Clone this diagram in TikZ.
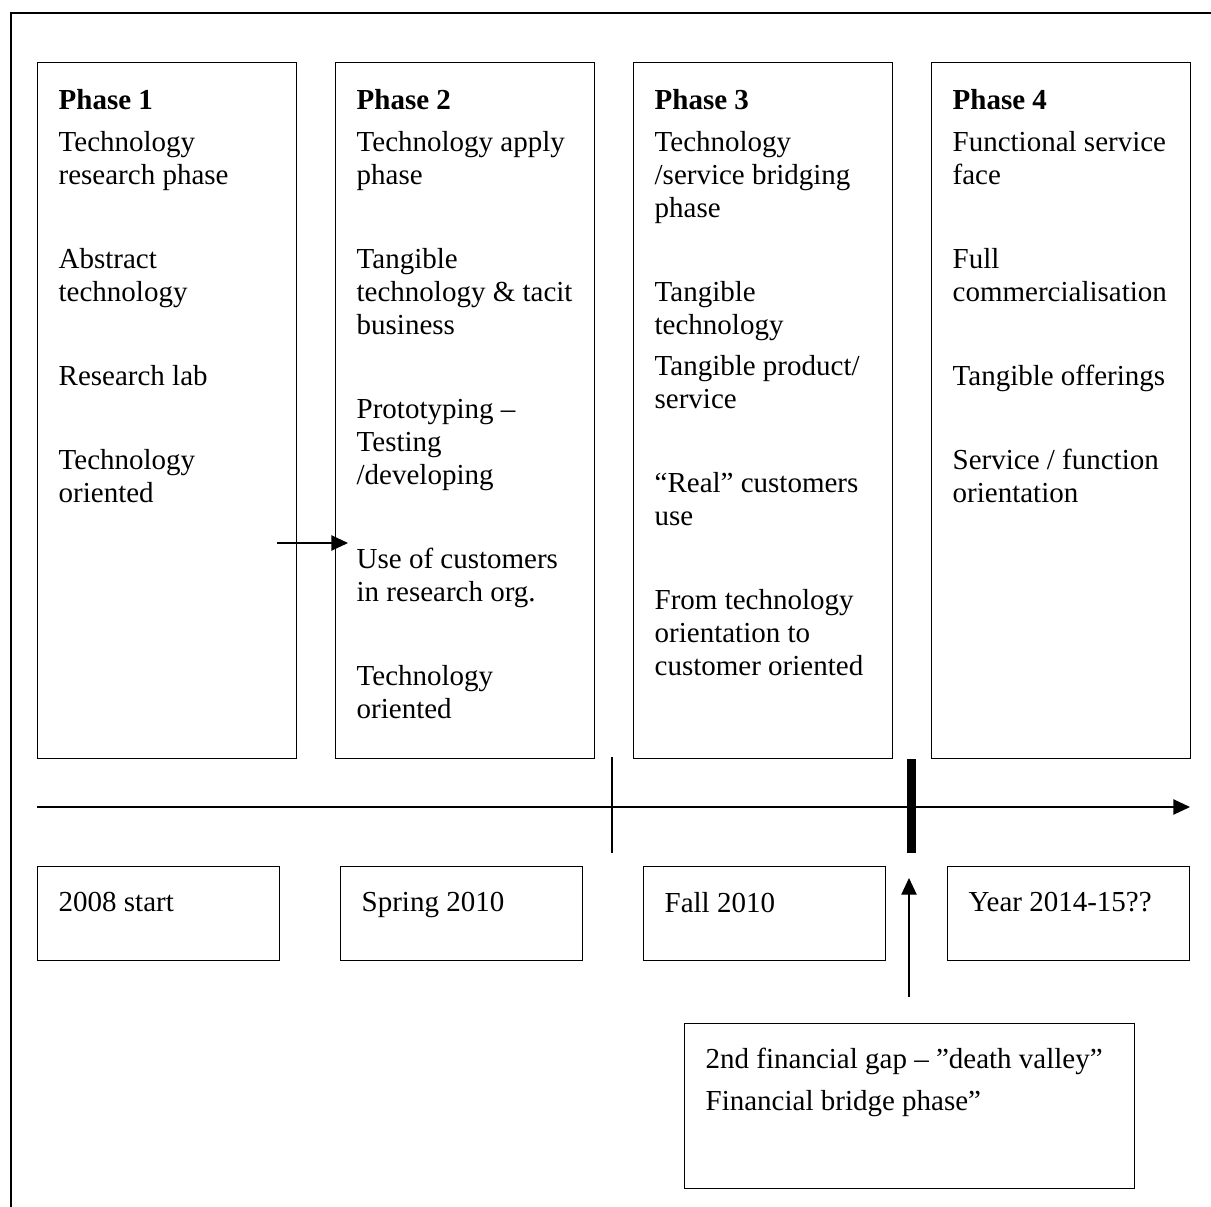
\documentclass[tikz,border=0pt]{standalone}
\usepackage{fontspec}
\setmainfont{Liberation Serif}
\usetikzlibrary{positioning,arrows.meta}

\begin{document}
\begin{tikzpicture}[x=0.75pt,y=-0.75pt,line width=1pt,
pb/.style={draw,rectangle,anchor=north west,inner sep=0pt,
minimum width=194.25pt,minimum height=522pt},
db/.style={draw,rectangle,anchor=north west,inner sep=0pt,
minimum width=181.5pt,minimum height=70.5pt},
tx/.style={inner sep=0pt,align=left,
font=\fontsize{21.75}{24.75}\selectfont},
tip/.style={-{Triangle[length=12.5pt,width=11.5pt]}}]
\useasboundingbox (0,0) rectangle (1211,1207);
\draw (1211,13) -- (11,13) -- (11,1207);
% phases
\node[pb] (p1) at (37,62) {};
\node[pb] (p2) at (335,62) {};
\node[pb] (p3) at (633,62) {};
\node[pb] (p4) at (931,62) {};
\node[tx,below right=19.9pt and 15.75pt of p1.north west] (t1)
  {\textbf{Phase 1}\\[6.75pt]
   Technology\\ research phase\\[38.25pt]
   Abstract\\ technology\\[38.25pt]
   Research lab\\[38.25pt]
   Technology\\ oriented};
\node[tx,below right=19.9pt and 15.75pt of p2.north west] (t2)
  {\textbf{Phase 2}\\[6.75pt]
   Technology apply\\ phase\\[38.25pt]
   Tangible\\ technology \& tacit\\ business\\[38.25pt]
   Prototyping –\\ Testing\\ /developing\\[38.25pt]
   Use of customers\\ in research org.\\[38.25pt]
   Technology\\ oriented};
\node[tx,below right=19.9pt and 15.75pt of p3.north west] (t3)
  {\textbf{Phase 3}\\[6.75pt]
   Technology\\ /service bridging\\ phase\\[38.25pt]
   Tangible\\ technology\\[6pt]
   Tangible product/\\ service\\[38.25pt]
   “Real” customers\\ use\\[38.25pt]
   From technology\\ orientation to\\ customer oriented};
\node[tx,below right=19.9pt and 15.75pt of p4.north west] (t4)
  {\textbf{Phase 4}\\[6.75pt]
   Functional service\\ face\\[38.25pt]
   Full\\ commercialisation\\[38.25pt]
   Tangible offerings\\[38.25pt]
   Service / function\\ orientation};
\coordinate (a0) at (277,543);
\coordinate (a1) at (348,543);
\draw[tip] (a0) -- (a1);
% time line
\coordinate (l0) at (37,807);
\coordinate (l1) at (1190,807);
\draw[tip] (l0) -- (l1);
\coordinate (k0) at (612,757);
\coordinate (k1) at (612,853);
\draw (k0) -- (k1);
\coordinate (g0) at (911.5,759);
\coordinate (g1) at (911.5,853);
\draw[line width=6.75pt] (g0) -- (g1);
% dates
\node[db] (d1) at (37,866) {};
\node[db] (d2) at (340,866) {};
\node[db] (d3) at (643,866) {};
\node[db] (d4) at (947,866) {};
\node[tx,below right=19.5pt and 15.75pt of d1.north west] (e1) {2008 start};
\node[tx,below right=19.5pt and 15.75pt of d2.north west] (e2) {Spring 2010};
\node[tx,below right=19.5pt and 15.75pt of d3.north west] (e3) {Fall 2010};
\node[tx,below right=19.5pt and 15.75pt of d4.north west] (e4) {Year 2014-15??};
% financial gap
\node[draw,rectangle,anchor=north west,inner sep=0pt,minimum width=337.5pt,
minimum height=123.75pt] (fg) at (684,1023) {};
\node[tx,below right=18pt and 15.75pt of fg.north west] (ft)
  {2nd financial gap – ”death valley”\\[6.75pt]
   Financial bridge phase”};
\coordinate (u0) at (909,997);
\coordinate (u1) at (909,878);
\draw[tip] (u0) -- (u1);
\end{tikzpicture}
\end{document}
